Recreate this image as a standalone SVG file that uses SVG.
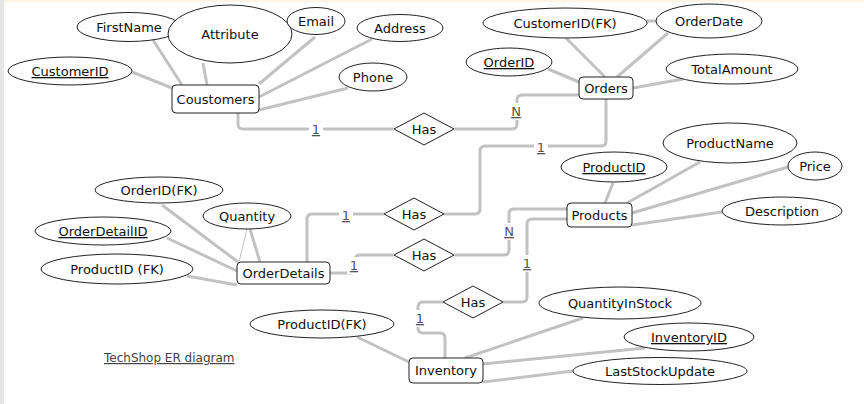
<svg xmlns="http://www.w3.org/2000/svg" width="864" height="404" viewBox="0 0 864 404">
<style>
.attr ellipse{fill:#fff;stroke:#222;stroke-width:1}
.ent rect{fill:#fff;stroke:#222;stroke-width:1}
.rel polygon{fill:#fff;stroke:#222;stroke-width:1}
text{font-family:"DejaVu Sans","Liberation Sans",sans-serif;font-size:13px;fill:#111;text-anchor:middle}
.key{text-decoration:underline}
.ln{fill:none;stroke:#c2c2c2;stroke-width:3}
.thin{fill:none;stroke:#c2c2c2;stroke-width:1}
.card rect{fill:#fff}
.card text{font-size:13px;fill:#555;text-decoration:underline}
.title{font-size:12px;fill:#444;text-decoration:underline;text-anchor:start}
</style>
<rect x="0" y="0" width="864" height="404" fill="#fff"/>
<rect x="0" y="0" width="4" height="404" fill="#e6e6e6"/>
<rect x="4" y="0" width="860" height="2" fill="#fcf5e3"/>

<g id="connectors">
  <!-- attribute lines -->
  <path class="ln" d="M153,40 L182,85"/>
  <path class="ln" d="M203,63 L207,85"/>
  <path class="ln" d="M132,72 L172,88"/>
  <path class="ln" d="M315,37 L259,84"/>
  <path class="ln" d="M372,39 L259,97"/>
  <path class="ln" d="M348,88 L259,110"/>
  <path class="ln" d="M566,38 L605,77"/>
  <path class="ln" d="M668,33 L617,77"/>
  <path class="ln" d="M548,69 L579,82"/>
  <path class="ln" d="M683,79 L633,88"/>
  <path class="ln" d="M645,21 L657,21"/>
  <path class="ln" d="M162,205 L238,262"/>
  <path class="ln" d="M167,238 L237,271"/>
  <path class="ln" d="M187,276 L237,285"/>
  <path class="thin" d="M247,229 L239,262"/>
  <path class="ln" d="M250,229 L260,262"/>
  <path class="ln" d="M613,183 L605,203"/>
  <path class="ln" d="M700,162 L627,203"/>
  <path class="ln" d="M788,167 L632,213"/>
  <path class="ln" d="M722,212 L632,225"/>
  <path class="ln" d="M357,337 L409,362"/>
  <path class="ln" d="M583,318 L465,358"/>
  <path class="ln" d="M645,348 L483,364"/>
  <path class="ln" d="M573,371 L483,382"/>
  <!-- relationship lines -->
  <path class="ln" d="M238,113 V124 Q238,129 243,129 H394"/>
  <path class="ln" d="M454,129 H512 Q517,129 517,124 V100 Q517,95 522,95 H579"/>
  <path class="ln" d="M606,99 V141 Q606,146 601,146 H485 Q480,146 480,151 V209 Q480,214 475,214 H444"/>
  <path class="ln" d="M384,214 H312 Q307,214 307,219 V262"/>
  <path class="ln" d="M330,273 H350 Q355,273 355,268 V260 Q355,255 360,255 H394"/>
  <path class="ln" d="M454,255 H504 Q509,255 509,250 V214 Q509,209 514,209 H567"/>
  <path class="ln" d="M567,219 H532 Q527,219 527,224 V297 Q527,302 522,302 H503"/>
  <path class="ln" d="M443,302 H423 Q418,302 418,307 V328 Q418,333 423,333 H440 Q445,333 445,338 V358"/>
  <!-- cardinalities -->
  <g class="card">
    <rect x="309" y="121" width="14" height="17"/><text x="316" y="134">1</text>
    <rect x="509" y="103" width="14" height="17"/><text x="516" y="116">N</text>
    <rect x="534" y="139" width="14" height="17"/><text x="541" y="152">1</text>
    <rect x="339" y="207" width="14" height="17"/><text x="346" y="220">1</text>
    <rect x="347" y="257" width="14" height="17"/><text x="354" y="270">1</text>
    <rect x="502" y="223" width="14" height="17"/><text x="509" y="236">N</text>
    <rect x="520" y="255" width="14" height="17"/><text x="527" y="268">1</text>
    <rect x="413" y="310" width="14" height="17"/><text x="420" y="323">1</text>
  </g>
</g>

<!-- Customers -->
<g id="attr-firstname" class="attr"><ellipse cx="129" cy="27" rx="52" ry="14.5"/><text x="129" y="32">FirstName</text></g>
<g id="attr-attribute" class="attr"><ellipse cx="230" cy="34" rx="62" ry="29"/><text x="230" y="39">Attribute</text></g>
<g id="attr-email" class="attr"><ellipse cx="316" cy="21" rx="29" ry="13.5"/><text x="316" y="26">Email</text></g>
<g id="attr-address" class="attr"><ellipse cx="400" cy="28" rx="43" ry="13.5"/><text x="400" y="33">Address</text></g>
<g id="attr-phone" class="attr"><ellipse cx="373" cy="77" rx="34" ry="14"/><text x="373" y="82">Phone</text></g>
<g id="attr-customerid" class="attr"><ellipse cx="70" cy="71" rx="62" ry="14"/><text class="key" x="70" y="76">CustomerID</text></g>
<g id="ent-customers" class="ent"><rect x="172" y="85" width="87" height="28" rx="4"/><text x="215.5" y="104">Coustomers</text></g>

<!-- Orders -->
<g id="attr-customeridfk" class="attr"><ellipse cx="565" cy="23" rx="82" ry="15"/><text x="565" y="28">CustomerID(FK)</text></g>
<g id="attr-orderdate" class="attr"><ellipse cx="709" cy="21" rx="53" ry="17"/><text x="709" y="26">OrderDate</text></g>
<g id="attr-orderid" class="attr"><ellipse cx="509" cy="62" rx="43" ry="14"/><text class="key" x="509" y="67">OrderID</text></g>
<g id="attr-totalamount" class="attr"><ellipse cx="732" cy="69" rx="66" ry="15"/><text x="732" y="74">TotalAmount</text></g>
<g id="ent-orders" class="ent"><rect x="579" y="77" width="54" height="22" rx="4"/><text x="606" y="93">Orders</text></g>

<!-- Relationships -->
<g id="rel-has-1" class="rel"><polygon points="394,129 424,113 454,129 424,145"/><text x="424" y="134">Has</text></g>
<g id="rel-has-2" class="rel"><polygon points="384,214 414,198 444,214 414,230"/><text x="414" y="219">Has</text></g>
<g id="rel-has-3" class="rel"><polygon points="394,255 424,239 454,255 424,271"/><text x="424" y="260">Has</text></g>
<g id="rel-has-4" class="rel"><polygon points="443,302 473,286 503,302 473,318"/><text x="473" y="307">Has</text></g>

<!-- OrderDetails -->
<g id="attr-orderidfk" class="attr"><ellipse cx="159" cy="190" rx="64" ry="13"/><text x="159" y="195">OrderID(FK)</text></g>
<g id="attr-quantity" class="attr"><ellipse cx="247" cy="216" rx="44" ry="13"/><text x="247" y="221">Quantity</text></g>
<g id="attr-orderdetailid" class="attr"><ellipse cx="103" cy="231" rx="68" ry="14"/><text class="key" x="103" y="236">OrderDetailID</text></g>
<g id="attr-productidfk" class="attr"><ellipse cx="117" cy="269" rx="76" ry="15"/><text x="117" y="274">ProductID (FK)</text></g>
<g id="ent-orderdetails" class="ent"><rect x="237" y="262" width="93" height="22" rx="4"/><text x="283.5" y="278">OrderDetails</text></g>

<!-- Products -->
<g id="attr-productid" class="attr"><ellipse cx="614" cy="167" rx="53" ry="15"/><text class="key" x="614" y="172">ProductID</text></g>
<g id="attr-productname" class="attr"><ellipse cx="730" cy="143" rx="67" ry="20"/><text x="730" y="148">ProductName</text></g>
<g id="attr-price" class="attr"><ellipse cx="815" cy="166" rx="27" ry="14"/><text x="815" y="171">Price</text></g>
<g id="attr-description" class="attr"><ellipse cx="782" cy="211" rx="60" ry="14"/><text x="782" y="216">Description</text></g>
<g id="ent-products" class="ent"><rect x="567" y="203" width="65" height="24" rx="4"/><text x="599.5" y="220">Products</text></g>

<!-- Inventory -->
<g id="attr-productidfk2" class="attr"><ellipse cx="322" cy="324" rx="72" ry="14"/><text x="322" y="329">ProductID(FK)</text></g>
<g id="attr-quantityinstock" class="attr"><ellipse cx="620" cy="303" rx="81" ry="16"/><text x="620" y="308">QuantityInStock</text></g>
<g id="attr-inventoryid" class="attr"><ellipse cx="689" cy="337" rx="65" ry="14"/><text class="key" x="689" y="342">InventoryID</text></g>
<g id="attr-laststockupdate" class="attr"><ellipse cx="660" cy="371" rx="87" ry="13.5"/><text x="660" y="376">LastStockUpdate</text></g>
<g id="ent-inventory" class="ent"><rect x="409" y="358" width="74" height="25" rx="4"/><text x="446" y="375">Inventory</text></g>

<text class="title" x="104" y="362">TechShop ER diagram</text>
</svg>
